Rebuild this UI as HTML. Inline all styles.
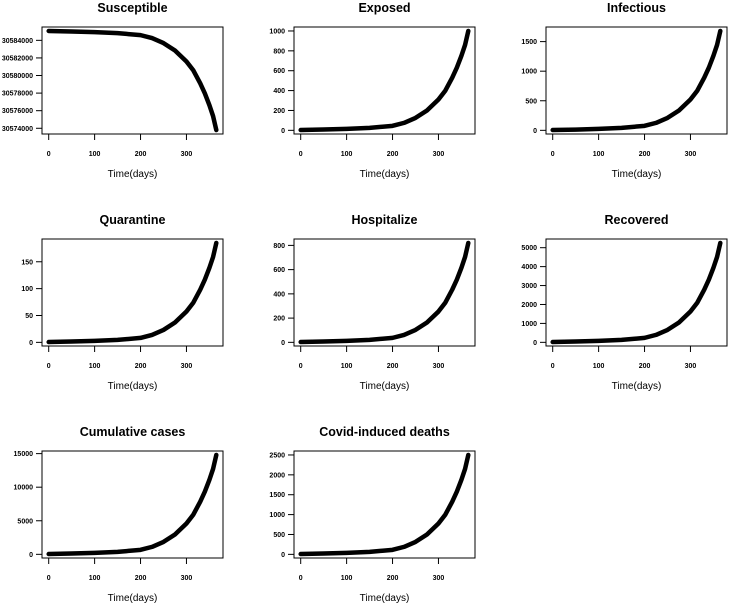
<!DOCTYPE html>
<html><head><meta charset="utf-8"><style>
body{margin:0;background:#fff;}
svg{display:block;font-family:"Liberation Sans",Arial,sans-serif;}
.t{font-weight:bold;font-size:12.5px;}
.tk{font-size:7px;font-weight:bold;}
.xl{font-size:10px;}
</style></head><body>
<svg id="c" width="730" height="603" viewBox="0 0 730 603"></svg>
<script>
const days = [0, 50, 100, 150, 200, 225, 250, 275, 300, 315, 330, 340, 350, 358, 365];
const titles = ["Susceptible","Exposed","Infectious","Quarantine","Hospitalize","Recovered","Cumulative cases","Covid-induced deaths"];
const susceptible = [30585066,30585010,30584930,30584818,30584592,30584253,30583688,30582840,30581597,30580580,30579111,30577981,30576625,30575382,30573800];
const exposed = [3,8,15,25,45,75,125,200,310,400,530,630,750,860,1000];
const infectious = [5,13,25,42,76,126,210,336,521,672,890,1058,1260,1445,1680];
const quarantine = [0.6,1.5,2.8,4.6,8.3,13.9,23.1,37,57.4,74,98,116.6,138.8,159,185];
const hospitalize = [2.5,6.6,12.3,20.5,36.9,61.5,102.5,164,254,328,435,517,615,705,820];
const recovered = [16,42,79,131,236,394,656,1050,1628,2100,2783,3308,3938,4515,5250];
const cumulative = [44,118,222,370,666,1110,1850,2960,4588,5920,7844,9324,11100,12728,14800];
const deaths = [8,20,38,63,113,188,313,500,775,1000,1325,1575,1875,2150,2500];
const series = [susceptible,exposed,infectious,quarantine,hospitalize,recovered,cumulative,deaths];
const ticksS = [30574000,30576000,30578000,30580000,30582000,30584000];
const ticksE = [0,200,400,600,800,1000];
const ticksI = [0,500,1000,1500];
const ticksQ = [0,50,100,150];
const ticksH = [0,200,400,600,800];
const ticksR = [0,1000,2000,3000,4000,5000];
const ticksC = [0,5000,10000,15000];
const ticksD = [0,500,1000,1500,2000,2500];
const yTicks = [ticksS,ticksE,ticksI,ticksQ,ticksH,ticksR,ticksC,ticksD];
const xTicks = [0,100,200,300];

const svg = document.getElementById('c');
const NS = 'http://www.w3.org/2000/svg';
function mk(tag, attrs, parent){const e=document.createElementNS(NS,tag);for(const k in attrs)e.setAttribute(k,attrs[k]);(parent||svg).appendChild(e);return e;}
const slugs = ["susceptible","exposed","infectious","quarantine","hospitalize","recovered","cumulative-cases","covid-deaths"];
series.forEach((vals,i)=>{
  const col=i%3,row=Math.floor(i/3);
  const L=42+col*252, R=L+181, T=27+row*212, B=T+107;
  const g=mk('g',{});
  
  
  const xmin=-14.6,xmax=379.6;
  const lo=Math.min(...vals),hi=Math.max(...vals),pad=(hi-lo)*0.04;
  const ymin=lo-pad,ymax=hi+pad;
  const X=d=>L+(d-xmin)/(xmax-xmin)*(R-L);
  const Y=v=>B-(v-ymin)/(ymax-ymin)*(B-T);
  const title=mk('text',{x:(L+R)/2,y:T-15,'text-anchor':'middle',class:'t'},g);
  title.textContent=titles[i];
  
  
  const box=mk('rect',{x:L,y:T,width:R-L,height:B-T,fill:'none',stroke:'#000','stroke-width':1},g);
  
  
  const xa=mk('g',{},g);
  
  
  xTicks.forEach(t=>{
    mk('line',{x1:X(t),x2:X(t),y1:B,y2:B+6,stroke:'#000'},xa);
    const tx=mk('text',{x:X(t),y:B+22,'text-anchor':'middle',class:'tk'},xa);tx.textContent=t;
  });
  const xl=mk('text',{x:(L+R)/2,y:B+43,'text-anchor':'middle',class:'xl'},g);
  xl.textContent='Time(days)';
  
  
  const ya=mk('g',{},g);
  
  
  yTicks[i].forEach(t=>{
    mk('line',{x1:L-6,x2:L,y1:Y(t),y2:Y(t),stroke:'#000'},ya);
    const tx=mk('text',{x:L-9,y:Y(t)+2.5,'text-anchor':'end',class:'tk'},ya);tx.textContent=t;
  });
  const pts=days.map((d,k)=>X(d)+','+Y(vals[k])).join(' ');
  const pl=mk('polyline',{points:pts,fill:'none',stroke:'#000','stroke-width':4.5,'stroke-linejoin':'round','stroke-linecap':'round'},g);
  
  
});
</script>
</body></html>
